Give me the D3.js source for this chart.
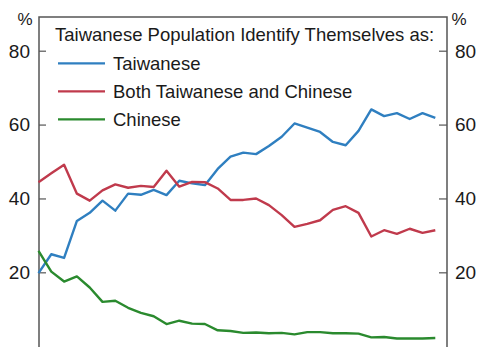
<!DOCTYPE html>
<html><head><meta charset="utf-8">
<script src="https://cdn.jsdelivr.net/npm/d3@7"></script>
<style>body{margin:0;background:#fff}svg{display:block}text{font-family:"Liberation Sans",Arial,sans-serif;fill:#1a1a1a}</style>
</head><body><svg id="c" width="485" height="360"></svg>
<script>
const years = d3.range(1992, 2024);
const taiwanese = [19.8,24.9,23.9,33.9,36.1,39.4,36.7,41.3,41.0,42.3,40.9,44.8,44.1,43.6,48.0,51.3,52.4,52.0,54.2,56.7,60.3,59.2,58.0,55.3,54.4,58.3,64.1,62.3,63.1,61.5,63.1,61.8];
const both = [44.4,46.8,49.1,41.3,39.4,42.2,43.8,42.9,43.4,43.1,47.5,43.2,44.5,44.4,42.7,39.6,39.6,40.0,38.2,35.5,32.3,33.1,34.1,36.9,37.9,36.1,29.7,31.4,30.4,31.8,30.7,31.4];
const chinese = [25.8,20.2,17.5,18.9,15.9,12.0,12.3,10.4,9.0,8.1,6.0,6.9,6.1,6.0,4.3,4.1,3.6,3.7,3.5,3.6,3.2,3.8,3.8,3.5,3.5,3.4,2.4,2.5,2.1,2.1,2.1,2.2];
const seriesNames = ["Taiwanese","Both Taiwanese and Chinese","Chinese"];
const seriesColors = ["#2f7fc0","#c03a4c","#2a8a2e"];
const yTicks = [20,40,60,80];
const title = "Taiwanese Population Identify Themselves as:";

const svg = d3.select("#c");
const L = 39, R = 447, T = 17, B = 346;
const x = d3.scaleLinear().domain([1992, 2023]).range([38.5, 435.3]);
const y = d3.scaleLinear().domain([0, 80]).range([346.2, 50.7]);

const axisColor = "#555";
const gl = svg.append("g").attr("transform", `translate(${L},0)`)
  .call(d3.axisRight(y).tickValues(yTicks).tickSize(7).tickFormat(""));
gl.select(".domain").remove();
gl.selectAll("line").attr("stroke", axisColor).attr("stroke-width", 1.2);
yTicks.forEach(t => svg.append("text").attr("x", 30).attr("y", y(t)).attr("dy", "0.36em")
  .attr("text-anchor", "end").attr("font-size", 19).text(t));
const gr = svg.append("g").attr("transform", `translate(${R},0)`)
  .call(d3.axisLeft(y).tickValues(yTicks).tickSize(8).tickFormat(""));
gr.select(".domain").remove();
gr.selectAll("line").attr("stroke", axisColor).attr("stroke-width", 1.2);
yTicks.forEach(t => svg.append("text").attr("x", 455).attr("y", y(t)).attr("dy", "0.36em")
  .attr("text-anchor", "start").attr("font-size", 19).text(t));
svg.append("path").attr("d", `M${L},${B+1}V${T}H${R}V${B+1}`).attr("fill", "none")
  .attr("stroke", axisColor).attr("stroke-width", 1.5);
svg.append("text").attr("x", 25).attr("y", 25).attr("text-anchor", "middle").attr("font-size", 17).text("%");
svg.append("text").attr("x", 459).attr("y", 25).attr("text-anchor", "middle").attr("font-size", 17).text("%");

const data = [taiwanese, both, chinese];
const line = d3.line().x((d, i) => x(years[i])).y(d => y(d));
data.forEach((s, k) => {
  svg.append("path").datum(s).attr("d", line).attr("fill", "none")
    .attr("stroke", seriesColors[k]).attr("stroke-width", 2.4).attr("stroke-linejoin", "round");
});

svg.append("text").attr("x", 55).attr("y", 41).attr("font-size", 18.5).text(title);
seriesNames.forEach((n, k) => {
  const cy = 63.3 + k * 28;
  svg.append("line").attr("x1", 58).attr("x2", 105).attr("y1", cy).attr("y2", cy)
    .attr("stroke", seriesColors[k]).attr("stroke-width", 2.2);
  svg.append("text").attr("x", 113).attr("y", cy + 6.5).attr("font-size", 18.5).text(n);
});
</script></body></html>
